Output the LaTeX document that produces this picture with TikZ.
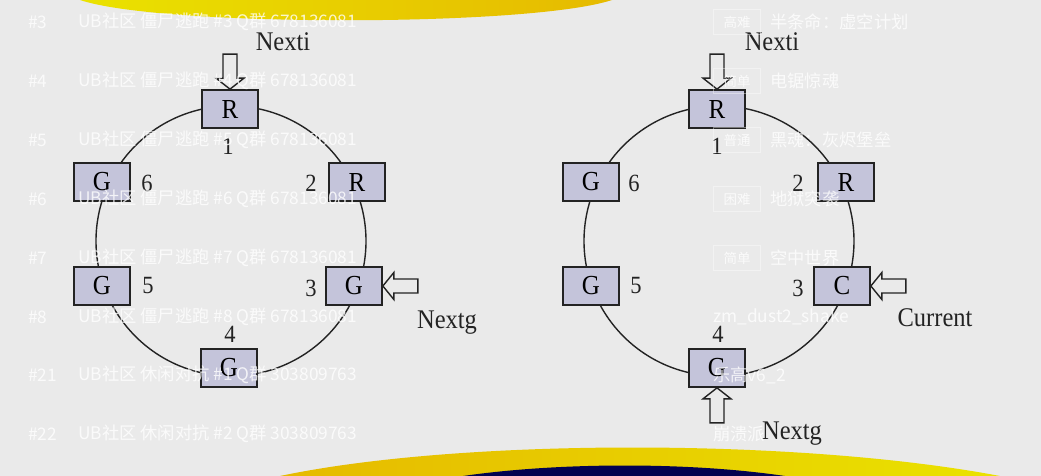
\documentclass[tikz,border=0pt]{standalone}
\usepackage{fontspec}
\setmainfont{Liberation Serif}
\newfontfamily\cjk{Noto Sans CJK SC}
\usetikzlibrary{calc}
\definecolor{bg}{RGB}{234,234,234}
\definecolor{boxfill}{RGB}{196,196,218}
\definecolor{ink}{RGB}{35,35,35}
\definecolor{goldL}{RGB}{230,186,0}
\definecolor{goldR}{RGB}{234,226,0}
\definecolor{navy}{RGB}{2,2,80}
\newcommand\vst[1]{\scalebox{1}[1.1]{#1}}
\tikzset{
 cell/.style={draw=ink, line width=2.2pt, fill=boxfill, minimum width=55.5pt, minimum height=37.5pt, inner sep=0pt, font=\fontsize{25}{25}\selectfont},
 num/.style={font=\fontsize{22.5}{22.5}\selectfont, text=ink, inner sep=0pt},
 lbl/.style={font=\fontsize{24.5}{24.5}\selectfont, text=ink, inner sep=0pt, anchor=base},
 ring/.style={draw=ink, line width=1.4pt},
 barrow/.style={draw=ink, line width=1.4pt, fill=bg, line join=miter},
 wm/.style={text=white, text opacity=0.8, inner sep=0pt, anchor=west, font=\cjk\fontsize{17.3}{17.3}\selectfont},
 tag/.style={draw=white, draw opacity=0.4, text=white, text opacity=0.8, minimum width=47pt, minimum height=25pt, inner sep=0pt, font=\cjk\fontsize{13.5}{13.5}\selectfont}
}
\newcommand\arrdown[1]{\draw[barrow] (#1) -- ++(-14,-11) -- ++(7,0) -- ++(0,-24) -- ++(14,0) -- ++(0,24) -- ++(7,0) -- cycle;}
\newcommand\arrup[1]{\draw[barrow] (#1) -- ++(-14,11) -- ++(7,0) -- ++(0,24) -- ++(14,0) -- ++(0,-24) -- ++(7,0) -- cycle;}
\newcommand\arrleft[1]{\draw[barrow] (#1) -- ++(11,-13.5) -- ++(0,6.5) -- ++(24,0) -- ++(0,14) -- ++(-24,0) -- ++(0,6.5) -- cycle;}
\begin{document}
\begin{tikzpicture}[x=1pt,y=-1pt]
\useasboundingbox (0,0) rectangle (1041,476);
\fill[bg] (0,0) rectangle (1041,476);
% decorative bars
\shade[left color=goldR, right color=goldL] (80,0) .. controls (160,27) and (530,27) .. (612,0) -- cycle;
\shade[left color=goldL, right color=goldR] (280,476) .. controls (460,438) and (800,438) .. (1000,476) -- cycle;
\fill[navy] (463,476) .. controls (560,462) and (690,462) .. (785,476) -- cycle;

% ---------- left ring ----------
\draw[ring] (231,241) circle (135);
\node[cell] (L1) at (230,109) {\vst{R}};
\node[cell] (L2) at (357,182) {\vst{R}};
\node[cell] (L3) at (354,286) {\vst{G}};
\node[cell] (L4) at (229,368) {\vst{G}};
\node[cell] (L5) at (102,286) {\vst{G}};
\node[cell] (L6) at (102,182) {\vst{G}};
\node[num] (l1) at (228,146) {\vst{1}};
\node[num] (l2) at (311,183) {\vst{2}};
\node[num] (l3) at (311,288) {\vst{3}};
\node[num] (l4) at (230,334) {\vst{4}};
\node[num] (l5) at (148,286) {\vst{5}};
\node[num] (l6) at (147,183) {\vst{6}};
\node[lbl] (LNi) at (283,51) {\vst{Nexti}};
\node[lbl] (LNg) at (447,328) {\vst{Nextg}};
\arrdown{L1.north}
\arrleft{L3.east}

% ---------- right ring ----------
\draw[ring] (719,241) circle (135);
\node[cell] (R1) at (717,109) {\vst{R}};
\node[cell] (R2) at (846,182) {\vst{R}};
\node[cell] (R3) at (842,286) {\vst{C}};
\node[cell] (R4) at (717,368) {\vst{G}};
\node[cell] (R5) at (591,286) {\vst{G}};
\node[cell] (R6) at (591,182) {\vst{G}};
\node[num] (r1) at (717,146) {\vst{1}};
\node[num] (r2) at (798,183) {\vst{2}};
\node[num] (r3) at (798,288) {\vst{3}};
\node[num] (r4) at (718,334) {\vst{4}};
\node[num] (r5) at (636,286) {\vst{5}};
\node[num] (r6) at (634,183) {\vst{6}};
\node[lbl] (RNi) at (772,51) {\vst{Nexti}};
\node[lbl] (RCu) at (935,326) {\vst{Current}};
\node[lbl] (RNg) at (792,439) {\vst{Nextg}};
\arrdown{R1.north}
\arrleft{R3.east}
\arrup{R4.south}

% ---------- overlay list ----------
\foreach \y/\n/\t in {22/{\#3}/{UB社区 僵尸逃跑 \#3 Q群 678136081},
                      81/{\#4}/{UB社区 僵尸逃跑 \#4 Q群 678136081},
                      140/{\#5}/{UB社区 僵尸逃跑 \#5 Q群 678136081},
                      199/{\#6}/{UB社区 僵尸逃跑 \#6 Q群 678136081},
                      258/{\#7}/{UB社区 僵尸逃跑 \#7 Q群 678136081},
                      317/{\#8}/{UB社区 僵尸逃跑 \#8 Q群 678136081},
                      375/{\#21}/{UB社区 休闲对抗 \#1 Q群 303809763},
                      434/{\#22}/{UB社区 休闲对抗 \#2 Q群 303809763}}{
  \node[wm] at (28,\y) {\n};
  \node[wm] at (78,\y) {\t};
}
\foreach \y/\g/\t in {22/高难/{半条命：虚空计划},
                      81/简单/{电锯惊魂},
                      140/普通/{黑魂：灰烬堡垒},
                      199/困难/{地狱突袭},
                      258/简单/{空中世界}}{
  \node[tag] at (737,\y) {\g};
  \node[wm] at (770,\y) {\t};
}
\node[wm] at (713,317) {zm\_dust2\_shake};
\node[wm] at (713,375) {乐高v6\_2};
\node[wm] at (713,434) {崩溃派};
\end{tikzpicture}
\end{document}
